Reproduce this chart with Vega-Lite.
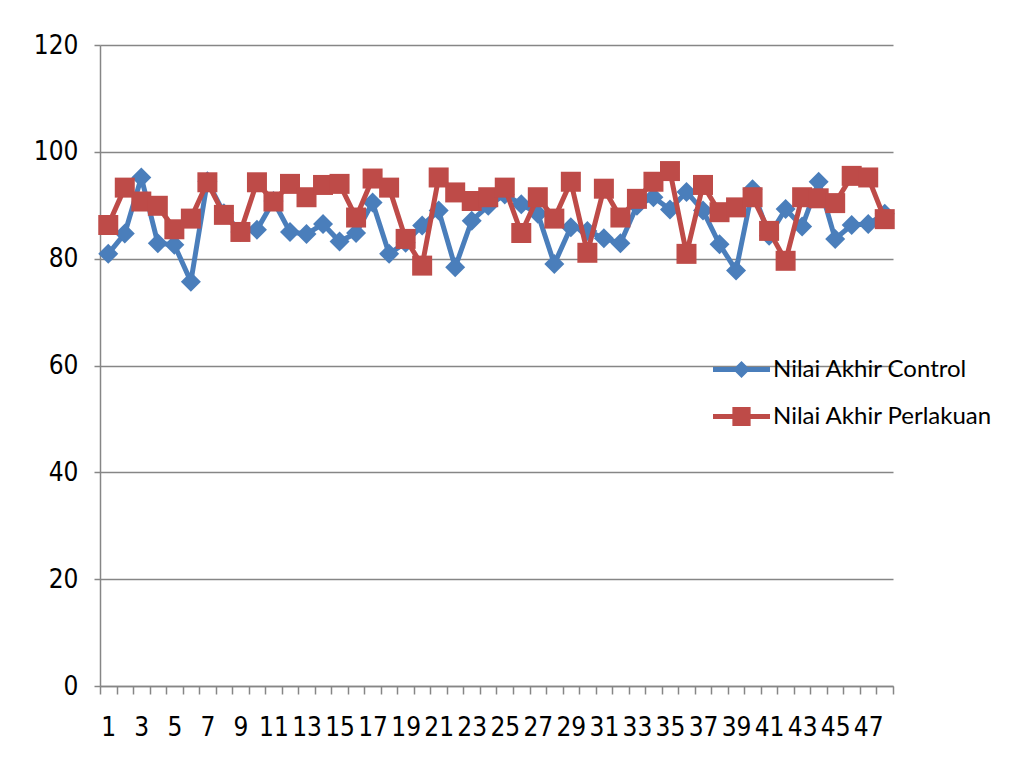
{
  "$schema": "https://vega.github.io/schema/vega-lite/v6.json",
  "autosize": "none",
  "width": 793,
  "height": 641,
  "padding": {"left": 100, "top": 45, "right": 118, "bottom": 80},
  "background": "white",
  "config": {
    "view": {"stroke": null},
    "axis": {
      "domainColor": "#868686", "domainWidth": 1.5,
      "tickColor": "#868686", "tickWidth": 1.5,
      "gridColor": "#868686", "gridWidth": 1.5,
      "labelColor": "#000000", "labelFont": "DejaVu Sans Condensed", "labelFontSize": 26
    }
  },
  "data": {
    "values": [
      {"n": 1, "control": 80.9, "perlakuan": 86.3},
      {"n": 2, "control": 84.7, "perlakuan": 93.3},
      {"n": 3, "control": 95.2, "perlakuan": 90.7},
      {"n": 4, "control": 82.9, "perlakuan": 89.9},
      {"n": 5, "control": 82.6, "perlakuan": 85.5},
      {"n": 6, "control": 75.7, "perlakuan": 87.5},
      {"n": 7, "control": 94.5, "perlakuan": 94.3},
      {"n": 8, "control": 88.5, "perlakuan": 88.2},
      {"n": 9, "control": 85.0, "perlakuan": 85.0},
      {"n": 10, "control": 85.4, "perlakuan": 94.3},
      {"n": 11, "control": 90.8, "perlakuan": 90.7},
      {"n": 12, "control": 85.0, "perlakuan": 94.0},
      {"n": 13, "control": 84.6, "perlakuan": 91.5},
      {"n": 14, "control": 86.5, "perlakuan": 93.8},
      {"n": 15, "control": 83.2, "perlakuan": 94.0},
      {"n": 16, "control": 84.8, "perlakuan": 87.7},
      {"n": 17, "control": 90.5, "perlakuan": 95.0},
      {"n": 18, "control": 80.9, "perlakuan": 93.3},
      {"n": 19, "control": 83.0, "perlakuan": 83.7},
      {"n": 20, "control": 86.2, "perlakuan": 78.7},
      {"n": 21, "control": 89.0, "perlakuan": 95.2},
      {"n": 22, "control": 78.4, "perlakuan": 92.4},
      {"n": 23, "control": 87.1, "perlakuan": 90.8},
      {"n": 24, "control": 89.9, "perlakuan": 91.5},
      {"n": 25, "control": 92.0, "perlakuan": 93.3},
      {"n": 26, "control": 90.2, "perlakuan": 84.8},
      {"n": 27, "control": 88.4, "perlakuan": 91.5},
      {"n": 28, "control": 79.0, "perlakuan": 87.5},
      {"n": 29, "control": 85.9, "perlakuan": 94.4},
      {"n": 30, "control": 85.2, "perlakuan": 81.1},
      {"n": 31, "control": 83.8, "perlakuan": 93.1},
      {"n": 32, "control": 82.9, "perlakuan": 87.7},
      {"n": 33, "control": 89.9, "perlakuan": 91.2},
      {"n": 34, "control": 91.5, "perlakuan": 94.4},
      {"n": 35, "control": 89.2, "perlakuan": 96.4},
      {"n": 36, "control": 92.5, "perlakuan": 80.9},
      {"n": 37, "control": 89.0, "perlakuan": 93.8},
      {"n": 38, "control": 82.7, "perlakuan": 88.7},
      {"n": 39, "control": 77.8, "perlakuan": 89.6},
      {"n": 40, "control": 93.0, "perlakuan": 91.5},
      {"n": 41, "control": 84.3, "perlakuan": 85.2},
      {"n": 42, "control": 89.3, "perlakuan": 79.6},
      {"n": 43, "control": 86.0, "perlakuan": 91.5},
      {"n": 44, "control": 94.4, "perlakuan": 91.3},
      {"n": 45, "control": 83.7, "perlakuan": 90.4},
      {"n": 46, "control": 86.3, "perlakuan": 95.5},
      {"n": 47, "control": 86.5, "perlakuan": 95.2},
      {"n": 48, "control": 88.4, "perlakuan": 87.4}
    ]
  },
  "encoding": {
    "x": {
      "field": "n", "type": "ordinal", "bandPosition": 0.5,
      "scale": {"type": "band", "paddingInner": 0, "paddingOuter": 0},
      "axis": {
        "title": null, "labelAngle": 0, "labelOverlap": false,
        "labelExpr": "datum.value % 2 === 1 ? datum.label : ''",
        "tickBand": "extent", "tickSize": 8, "labelPadding": 20, "grid": false
      }
    },
    "color": {
      "scale": {"domain": ["Nilai Akhir Control", "Nilai Akhir Perlakuan"], "range": ["#4A7EBB", "#BE4B48"]},
      "legend": {
        "title": null, "orient": "none", "legendX": 613, "legendY": 311,
        "padding": 0, "symbolSize": 3249, "clipHeight": 27, "rowPadding": 20,
        "labelFont": "Lato", "labelFontSize": 24, "labelColor": "#000000", "labelOffset": 3, "labelLimit": 400,
        "encode": {
          "symbols": {
            "update": {
              "shape": {"signal": "datum.value === 'Nilai Akhir Control' ? 'M-1,-0.09H1V0.09H-1Z M0,-0.3L0.3,0L0,0.3L-0.3,0Z' : 'M-1,-0.09H1V0.09H-1Z M-0.32,-0.33H0.32V0.33H-0.32Z'"},
              "fill": {"scale": "color", "field": "value"},
              "strokeWidth": {"value": 0},
              "opacity": {"value": 1}
            }
          }
        }
      }
    }
  },
  "layer": [
    {
      "mark": {"type": "line", "strokeWidth": 5, "point": {"shape": "diamond", "size": 400, "filled": true, "opacity": 1}},
      "encoding": {
        "y": {
          "field": "control", "type": "quantitative",
          "scale": {"domain": [0, 120], "nice": false},
          "axis": {"title": null, "values": [0, 20, 40, 60, 80, 100, 120], "tickSize": 6, "labelPadding": 16, "grid": true}
        },
        "color": {"datum": "Nilai Akhir Control"}
      }
    },
    {
      "mark": {"type": "line", "strokeWidth": 5, "point": {"shape": "square", "size": 400, "filled": true, "opacity": 1}},
      "encoding": {
        "y": {"field": "perlakuan", "type": "quantitative"},
        "color": {"datum": "Nilai Akhir Perlakuan"}
      }
    }
  ]
}
